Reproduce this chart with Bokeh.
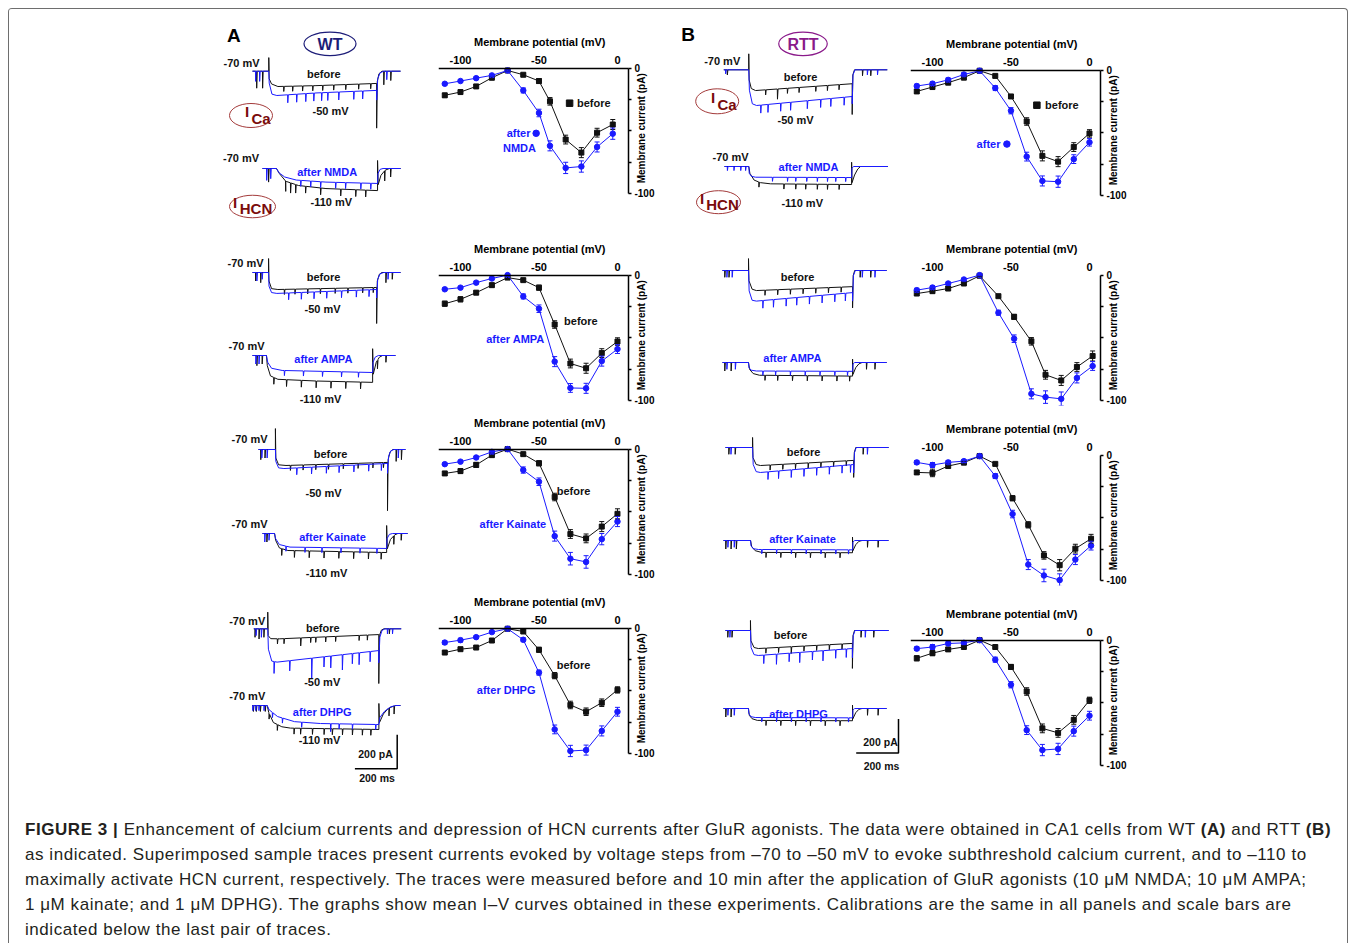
import numpy as np
from bokeh.plotting import figure
from bokeh.models import (Range1d, FixedTicker, Whisker, TeeHead, ColumnDataSource,
                          Div, Spacer, CustomJSTickFormatter)
from bokeh.layouts import row, column
from bokeh.core.properties import value
from bokeh.embed import file_html
from bokeh.resources import INLINE

FONT = "Liberation Sans"
NARROW = "'Liberation Sans Narrow', 'Liberation Sans', Arial, sans-serif"
BLACK = "#111111"
BLUE = "#1a1aff"

# ------------------------------------------------------------------ I-V data
V_REG = [-110, -100, -90, -80, -70, -60, -50, -40, -30, -20, -10, 0]
V_A1 = [-110, -100, -90, -80, -70, -60, -50, -43, -33, -23, -13, -3]
V_B2 = [-110, -100, -90, -80, -70, -58, -48, -37, -28, -18, -8, 2]
V_B3 = [-110, -100, -90, -80, -70, -60, -49, -39, -29, -19, -9, 1]

A1_before = [-21.7, -19.1, -14.6, -7.7, -1.9, -5.3, -10.3, -26.5, -57, -67.4, -51.5, -45]
A1_after = [-12.5, -10.3, -8, -5.8, -1.9, -17.8, -35.8, -62, -79.6, -78.5, -62.9, -52.3]
A2_before = [-22.8, -19.3, -14, -8, -2, -4, -10, -39.4, -70.5, -74.3, -62.2, -53]
A2_after = [-11.3, -10, -6, -2.7, 0, -17, -26.8, -69, -90, -90.3, -68.6, -59]
A3_before = [-19.4, -17.5, -12.6, -4.8, 0, -4, -11.3, -38.2, -67.7, -71.2, -61.8, -51.6]
A3_after = [-12, -10, -6.7, -2.2, 0, -16.7, -26, -69.4, -87.4, -90, -71.8, -57.8]
A4_before = [-19.5, -16.8, -15.5, -9.9, -0.5, -2.7, -17.3, -37.9, -61.3, -66.7, -59.5, -49.3]
A4_after = [-11.5, -9.6, -7.2, -3.2, -0.5, -9.3, -35.5, -80.8, -98, -97.3, -82, -66.7]
B1_before = [-17, -13.5, -10, -6, -0.5, -4.6, -21, -41, -68.4, -73, -61.4, -50.5]
B1_after = [-12.7, -10.8, -7.8, -3.5, -0.5, -14.3, -32.4, -69, -88.4, -89, -71, -57.6]
B2_before = [-14.7, -12.8, -10.7, -6.7, -0.5, -16.8, -33.3, -52.8, -79.5, -84, -73.3, -64.5]
B2_after = [-12, -9.9, -6.7, -3.5, 0, -30, -50.7, -94.7, -97.3, -98.7, -82, -72.5]
B3_before = [-13.8, -14.2, -8.7, -6, -0.8, -7, -34.4, -55.6, -80, -87.8, -74.6, -66.7]
B3_after = [-5.8, -7.9, -5.8, -4.8, -0.8, -16.7, -47, -87.3, -96, -99.7, -83.3, -72.2]
B4_before = [-14.5, -10.4, -7.4, -5.5, 0, -5.5, -21.4, -41, -70.4, -74, -63.6, -48]
B4_after = [-6.8, -5.5, -2.7, -2.2, 0, -15.6, -35.6, -71.8, -87.7, -86.8, -72.6, -60.3]

A1_before_err = [1.5, 1.5, 1.5, 1, 0.5, 1, 2, 3, 3.5, 4, 3.5, 4]
A1_after_err = [1, 1, 1, 1, 0.5, 2, 3, 4, 4.5, 4.5, 4, 4.5]
A2_before_err = [2, 2, 1.5, 1.5, 1, 1, 2, 3, 3.5, 4, 3.5, 3]
A2_after_err = [1, 1, 1, 1, 1, 2, 3, 4, 3.5, 4, 4, 3.5]
A3_before_err = [1.5, 2, 2, 1.5, 1, 1, 2, 3, 3.5, 3.5, 4, 4]
A3_after_err = [1, 1, 1, 1.5, 1, 2.5, 3, 4, 5, 5, 4.5, 4]
A4_before_err = [1, 1, 1, 1.5, 1, 1, 2, 2.5, 3, 3, 3, 2.5]
A4_after_err = [1.5, 1.5, 1, 1, 1, 1.5, 2, 3.5, 4.5, 4, 4, 3.5]
B1_before_err = [1.5, 1.5, 1, 1, 0.5, 1, 1.5, 3, 4, 4, 3.5, 3]
B1_after_err = [1.5, 1.5, 1.5, 1.5, 0.5, 2, 2.5, 3.5, 4, 4.5, 3.5, 3]
B2_before_err = [1.5, 1.5, 1.5, 1, 0.5, 1, 2, 3, 3.5, 4, 3.5, 4]
B2_after_err = [1.5, 1.5, 1, 1, 0.5, 2, 3, 4, 5, 5.5, 4, 3.5]
B3_before_err = [1.5, 3, 1.5, 1, 0.5, 1, 2, 2.5, 3, 4.5, 3.5, 3.5]
B3_after_err = [1.5, 2, 1.5, 1, 0.5, 2, 3, 4, 5, 5, 4, 3.5]
B4_before_err = [2, 2, 1.5, 1, 0.5, 1, 2, 3, 3.5, 3.5, 3.5, 2.5]
B4_after_err = [1.5, 2, 1.5, 1, 0.5, 2, 2.5, 3.5, 4.5, 4.5, 4, 3.5]

X_TICKS = [-100, -50, 0]
Y_TICKS = [-100, 0]
Y_MINOR = [-75, -50, -25]
V_AXIS_LO, V_AXIS_HI = -114, 7      # extent of the voltage axis line (mV)
I_AXIS_LO, I_AXIS_HI = -100, 0      # extent of the current axis line (pA)

# ------------------------------------------------------------ sample traces
# knots: (time ms from trace start, current pA rel. to holding); spikes: (time ms, depth pA)
A1_Ca = dict(
    black=[(0, 0), (77, 0), (77, 80), (79, -45), (90, -75), (120, -90), (300, -85), (587, -72), (587, -335), (590, -60), (598, -15), (612, 0), (700, 0)],
    blue=[(0, 0), (77, 0), (79, -70), (92, -135), (115, -143), (300, -128), (587, -113), (587, -170), (592, -45), (603, -10), (620, 0), (700, 0)],
    black_sp=[(19, 100), (47, 100), (147, 30), (189, 30), (236, 30), (284, 30), (331, 30), (383, 30), (440, 30), (501, 30), (558, 30), (620, 80), (653, 55)],
    blue_sp=[(14, 60), (33, 60), (166, 47), (208, 47), (251, 47), (289, 47), (326, 47), (355, 47), (407, 47), (478, 47), (520, 47), (634, 50)])
A1_HCN = dict(
    black=[(0, 0), (66, 0), (80, -30), (110, -75), (170, -100), (300, -118), (544, -130), (544, 47), (547, -95), (560, -40), (580, -10), (600, 0), (653, 0)],
    blue=[(0, 0), (66, 0), (78, -25), (105, -50), (160, -68), (300, -80), (544, -88), (546, -30), (556, -5), (570, 0), (653, 0)],
    black_sp=[(28, 80), (109, 60), (132, 60), (156, 50), (203, 40), (274, 40), (369, 40), (440, 40), (487, 40), (577, 60), (605, 50)],
    blue_sp=[(19, 70), (38, 60), (180, 35), (227, 35), (274, 35), (345, 35), (392, 35), (464, 35), (511, 35)])
A2_Ca = dict(
    black=[(0, 0), (76, 0), (76, 82), (78, -50), (90, -95), (120, -100), (587, -88), (587, -300), (590, -50), (600, -10), (612, 0), (700, 0)],
    blue=[(0, 0), (76, 0), (78, -80), (90, -118), (115, -123), (587, -100), (587, -150), (592, -40), (603, -8), (620, 0), (700, 0)],
    black_sp=[(14, 50), (38, 60), (150, 30), (200, 30), (260, 30), (320, 30), (390, 30), (450, 30), (520, 30), (570, 30), (630, 60), (660, 40)],
    blue_sp=[(20, 50), (45, 40), (170, 40), (230, 40), (290, 40), (350, 40), (420, 40), (490, 40), (550, 40), (640, 40)])
A2_HCN = dict(
    black=[(0, 0), (66, 0), (70, -60), (85, -120), (120, -140), (300, -150), (568, -158), (568, 40), (571, -110), (585, -40), (600, -10), (615, 0), (676, 0)],
    blue=[(0, 0), (66, 0), (72, -40), (90, -75), (140, -88), (568, -100), (570, -40), (580, -10), (595, 0), (676, 0)],
    black_sp=[(20, 60), (45, 50), (100, 40), (160, 40), (230, 40), (300, 40), (370, 40), (440, 40), (510, 40), (590, 50), (630, 40)],
    blue_sp=[(15, 50), (30, 50), (150, 30), (240, 30), (330, 30), (420, 30), (500, 30)])
A3_Ca = dict(
    black=[(0, 0), (80, 0), (80, 123), (82, -50), (95, -90), (130, -94), (610, -76), (610, -360), (613, -60), (622, -15), (635, 0), (695, 0)],
    blue=[(0, 0), (80, 0), (82, -70), (95, -108), (120, -112), (610, -82), (610, -140), (615, -40), (625, -8), (640, 0), (695, 0)],
    black_sp=[(10, 60), (30, 50), (150, 30), (210, 30), (270, 30), (330, 30), (400, 30), (470, 30), (540, 30), (590, 30), (650, 70), (675, 60)],
    blue_sp=[(15, 50), (40, 50), (180, 40), (250, 40), (320, 40), (380, 40), (450, 40), (520, 40), (580, 40), (660, 50)])
A3_HCN = dict(
    black=[(0, 0), (57, 0), (62, -40), (80, -85), (120, -100), (587, -112), (587, 47), (590, -90), (605, -35), (625, -8), (640, 0), (686, 0)],
    blue=[(0, 0), (57, 0), (62, -30), (80, -65), (130, -80), (587, -88), (589, -30), (600, -5), (615, 0), (686, 0)],
    black_sp=[(20, 50), (90, 40), (150, 40), (220, 40), (290, 40), (360, 40), (430, 40), (500, 40), (560, 40), (620, 50), (655, 40)],
    blue_sp=[(10, 50), (30, 40), (110, 30), (200, 30), (280, 30), (370, 30), (460, 30), (540, 30)])
A4_Ca = dict(
    black=[(0, 0), (66, 0), (66, 98), (68, -40), (80, -58), (120, -59), (591, -34), (591, -322), (594, -40), (603, -8), (615, 0), (697, 0)],
    blue=[(0, 0), (66, 0), (69, -120), (85, -190), (110, -196), (591, -128), (591, -200), (596, -50), (606, -10), (620, 0), (697, 0)],
    black_sp=[(5, 50), (24, 60), (47, 50), (111, 30), (142, 30), (221, 47), (268, 30), (292, 30), (339, 30), (386, 30), (497, 30), (536, 30), (640, 30)],
    blue_sp=[(10, 40), (35, 50), (95, 70), (169, 60), (273, 118), (331, 60), (363, 70), (418, 90), (465, 60), (497, 70), (549, 60), (631, 30), (655, 30)])
A4_HCN = dict(
    black=[(0, 0), (71, 0), (78, -40), (100, -100), (140, -125), (181, -133), (599, -141), (599, 12), (602, -100), (620, -50), (645, -15), (678, 0), (701, 0)],
    blue=[(0, 0), (71, 0), (80, -25), (120, -65), (200, -95), (323, -106), (599, -112), (604, -70), (625, -35), (655, -8), (678, 0), (701, 0)],
    black_sp=[(5, 35), (19, 35), (38, 35), (61, 35), (79, 35), (118, 35), (197, 35), (228, 35), (284, 35), (339, 35), (378, 35), (426, 35), (473, 35), (520, 35), (560, 35), (646, 47), (670, 47)],
    blue_sp=[(2, 30), (16, 30), (31, 30), (55, 30), (95, 30), (142, 30), (233, 30), (370, 47), (410, 30), (473, 30), (583, 30)])
B1_Ca = dict(
    black=[(0, 0), (118, 0), (118, 94), (120, -60), (130, -110), (150, -122), (607, -82), (607, -263), (610, -30), (618, 0), (773, 0)],
    blue=[(0, 0), (118, 0), (121, -120), (135, -200), (155, -210), (607, -157), (607, -200), (611, -30), (620, 0), (773, 0)],
    black_sp=[(16, 30), (197, 30), (253, 60), (300, 30), (355, 30), (434, 30), (489, 30), (544, 30), (655, 35), (694, 35)],
    blue_sp=[(8, 24), (174, 47), (208, 47), (268, 47), (315, 47), (394, 47), (457, 47), (505, 47), (568, 47), (678, 30), (726, 30)])
B1_HCN = dict(
    black=[(0, 0), (115, 0), (120, -40), (140, -80), (170, -95), (218, -102), (601, -106), (601, 25), (603, -95), (615, -50), (630, -15), (643, 0), (772, 0)],
    blue=[(0, 0), (115, 0), (117, -40), (128, -58), (147, -63), (601, -65), (603, -10), (610, 0), (772, 0)],
    black_sp=[(162, 30), (280, 30), (336, 30), (383, 30), (438, 30), (486, 30), (541, 30)],
    blue_sp=[(13, 24), (44, 24), (76, 24), (99, 24), (226, 24), (297, 24), (336, 24), (388, 24), (438, 24), (486, 24), (525, 24), (572, 24)])
B2_Ca = dict(
    black=[(0, 0), (123, 0), (123, 70), (125, -60), (140, -110), (160, -118), (615, -95), (615, -220), (618, -30), (625, 0), (776, 0)],
    blue=[(0, 0), (123, 0), (126, -120), (140, -175), (160, -180), (615, -130), (615, -180), (619, -30), (628, 0), (776, 0)],
    black_sp=[(10, 40), (30, 40), (200, 30), (260, 30), (320, 30), (380, 30), (440, 30), (500, 30), (560, 30), (650, 40), (700, 40)],
    blue_sp=[(20, 40), (45, 40), (190, 45), (240, 45), (300, 45), (350, 45), (410, 45), (470, 45), (530, 45), (580, 45), (660, 40), (720, 40)])
B2_HCN = dict(
    black=[(0, 0), (123, 0), (128, -40), (145, -65), (175, -75), (615, -80), (615, 20), (617, -70), (630, -30), (645, -8), (660, 0), (776, 0)],
    blue=[(0, 0), (123, 0), (125, -30), (135, -45), (160, -50), (615, -52), (617, -10), (625, 0), (776, 0)],
    black_sp=[(10, 50), (40, 50), (200, 30), (260, 30), (330, 30), (400, 30), (470, 30), (540, 30), (600, 30), (680, 40), (720, 40)],
    blue_sp=[(20, 40), (60, 40), (190, 25), (250, 25), (320, 25), (390, 25), (460, 25), (530, 25), (590, 25)])
B3_Ca = dict(
    black=[(0, 0), (128, 0), (128, 59), (130, -60), (145, -100), (165, -106), (606, -76), (606, -176), (609, -30), (616, 0), (771, 0)],
    blue=[(0, 0), (128, 0), (131, -100), (145, -142), (165, -147), (606, -100), (606, -150), (610, -30), (618, 0), (771, 0)],
    black_sp=[(15, 40), (45, 40), (210, 30), (270, 30), (330, 30), (390, 30), (450, 30), (510, 30), (570, 30), (650, 40)],
    blue_sp=[(25, 40), (200, 45), (250, 45), (310, 45), (370, 45), (430, 45), (490, 45), (550, 45), (590, 45), (670, 40)])
B3_HCN = dict(
    black=[(0, 0), (128, 0), (133, -35), (150, -60), (180, -70), (610, -72), (610, 20), (612, -60), (625, -25), (640, -5), (655, 0), (780, 0)],
    blue=[(0, 0), (128, 0), (130, -30), (140, -48), (165, -53), (610, -55), (612, -10), (620, 0), (780, 0)],
    black_sp=[(10, 50), (35, 50), (60, 50), (200, 30), (270, 30), (340, 30), (410, 30), (480, 30), (550, 30), (680, 40), (730, 40)],
    blue_sp=[(20, 40), (50, 40), (180, 25), (250, 25), (320, 25), (390, 25), (460, 25), (530, 25), (590, 25)])
B4_Ca = dict(
    black=[(0, 0), (118, 0), (118, 59), (120, -60), (135, -100), (155, -106), (600, -76), (600, -223), (603, -30), (610, 0), (771, 0)],
    blue=[(0, 0), (118, 0), (121, -100), (135, -142), (155, -147), (600, -106), (600, -160), (604, -30), (612, 0), (771, 0)],
    black_sp=[(10, 40), (30, 40), (190, 30), (250, 30), (310, 40), (370, 30), (430, 30), (490, 30), (550, 30), (640, 40), (700, 40)],
    blue_sp=[(20, 40), (180, 50), (240, 60), (300, 50), (350, 60), (410, 50), (460, 60), (520, 50), (570, 50), (660, 40)])
B4_HCN = dict(
    black=[(0, 0), (118, 0), (122, -40), (135, -60), (160, -70), (610, -72), (610, 20), (612, -60), (625, -25), (640, -5), (655, 0), (771, 0)],
    blue=[(0, 0), (118, 0), (120, -30), (130, -48), (150, -53), (610, -55), (612, -10), (620, 0), (771, 0)],
    black_sp=[(10, 50), (35, 50), (200, 30), (270, 30), (340, 30), (410, 30), (480, 30), (550, 30), (680, 40), (730, 40)],
    blue_sp=[(20, 40), (50, 40), (180, 25), (250, 25), (320, 25), (390, 25), (460, 25), (530, 25), (590, 25)])

SCALE_MS = 200
SCALE_PA = 200

# ------------------------------------------------------------------ layout
SX = 0.2115   # px per ms in trace panels
SY = 0.17     # px per pA in trace panels
PANEL_H = 791
PAGE_BOTTOM = 800

POS_A = [(A1_Ca, 252, 70.7), (A1_HCN, 262, 168), (A2_Ca, 252, 272), (A2_HCN, 252, 355),
         (A3_Ca, 258, 449), (A3_HCN, 262, 533), (A4_Ca, 253.3, 628.3), (A4_HCN, 251.7, 705)]
POS_B = [(B1_Ca, 723.3, 69.3), (B1_HCN, 724, 166), (B2_Ca, 722, 270), (B2_HCN, 722, 362),
         (B3_Ca, 725, 447), (B3_HCN, 723, 540), (B4_Ca, 725, 630), (B4_HCN, 723, 708)]

LABELS_A = [("-70 mV", 241, 62, BLACK), ("before", 323.3, 73.3, BLACK), ("-50 mV", 330, 110, BLACK),
            ("-70 mV", 240.5, 157.7, BLACK), ("after NMDA", 326.7, 171, BLUE), ("-110 mV", 330.8, 201.7, BLACK),
            ("-70 mV", 245, 262, BLACK), ("before", 323, 276, BLACK), ("-50 mV", 322, 308, BLACK),
            ("-70 mV", 246, 345, BLACK), ("after AMPA", 323, 358, BLUE), ("-110 mV", 320, 398, BLACK),
            ("-70 mV", 249, 438, BLACK), ("before", 330, 453, BLACK), ("-50 mV", 323, 492, BLACK),
            ("-70 mV", 249, 523, BLACK), ("after Kainate", 332, 536, BLUE), ("-110 mV", 326, 572, BLACK),
            ("-70 mV", 246.7, 620, BLACK), ("before", 322.3, 627.3, BLACK), ("-50 mV", 321.7, 681, BLACK),
            ("-70 mV", 246.7, 695, BLACK), ("after DHPG", 321.7, 711, BLUE), ("-110 mV", 319, 739, BLACK),
            ("200 pA", 375, 753, BLACK), ("200 ms", 376.5, 777.7, BLACK)]
LABELS_B = [("-70 mV", 721.7, 60, BLACK), ("before", 800, 76, BLACK), ("-50 mV", 795, 119, BLACK),
            ("-70 mV", 730, 156.7, BLACK), ("after NMDA", 808, 166.7, BLUE), ("-110 mV", 801.7, 202.7, BLACK),
            ("before", 797, 276, BLACK), ("after AMPA", 792, 357, BLUE),
            ("before", 803, 451, BLACK), ("after Kainate", 802, 538, BLUE),
            ("before", 790, 634, BLACK), ("after DHPG", 798, 713, BLUE),
            ("200 pA", 880, 741, BLACK), ("200 ms", 881, 765, BLACK)]


def build(knots, spikes):
    ts = np.array([k[0] for k in knots], float)
    vs = np.array([k[1] for k in knots], float)
    pts = list(knots)
    for t, d in spikes:
        for dt, f in ((0, 0), (0.8, 1), (3.5, 0)):
            tt = t + dt
            pts.append((tt, float(np.interp(tt, ts, vs)) - f * d))
    pts = sorted(pts, key=lambda p: p[0])
    return [p[0] for p in pts], [p[1] for p in pts]


def trace_fig(width, left, pos, labels, letter, group, group_col, badges, bar_corner):
    p = figure(width=width, height=PANEL_H, x_range=Range1d(0, width / SX),
               y_range=Range1d(0, PANEL_H / SY), x_axis_type=None, y_axis_type=None,
               toolbar_location=None, output_backend="svg", min_border=0)
    p.outline_line_color = None
    tx = lambda px: (px - left) / SX
    ty = lambda py: (PAGE_BOTTOM - py) / SY
    for tr, x0, y0 in pos:
        for key, col in (("black", BLACK), ("blue", BLUE)):
            ts, vs = build(tr[key], tr[key + "_sp"])
            p.line([tx(x0) + t for t in ts], [ty(y0) + v for v in vs], line_color=col, line_width=1)

    def txt(s, px, py, col, size="11px", font=FONT):
        p.text(x=[tx(px)], y=[ty(py)], text=[s], text_font=value(font), text_font_size=size,
               text_font_style="bold", text_color=col, text_align="center", text_baseline="middle")

    for s, px, py, col in labels:
        txt(s, px, py, col, "10.5px" if s.startswith("200") else "11px")
    txt(letter[0], letter[1], letter[2], "black", "19px")
    gx, gy, gw, gh, gname = group
    p.ellipse(x=[tx(gx)], y=[ty(gy)], width=[gw / SX], height=[gh / SY], fill_color=None,
              line_color=group_col, line_width=1.2)
    txt(gname, gx, gy + 1, group_col, "16px")
    for cx, cy, w, h, sub, ix, iy, sx_, sy_ in badges:
        p.ellipse(x=[tx(cx)], y=[ty(cy)], width=[w / SX], height=[h / SY], fill_color=None,
                  line_color="#a33a3a", line_width=1)
        txt("I", ix, iy, "#7a0c0c", "15px", NARROW)
        txt(sub, sx_, sy_, "#7a0c0c", "15px", NARROW)
    bx, by = bar_corner
    p.line([tx(bx) - SCALE_MS, tx(bx), tx(bx)], [ty(by), ty(by), ty(by) + SCALE_PA],
           line_color="black", line_width=1.5)
    return p


Y_LO, Y_HI = -104, 30
FRAME_H = 168
PX_PER_PA = FRAME_H / (Y_HI - Y_LO)
PX_PER_MV = 1.57
IV_W, IV_LEFT, IV_RIGHT = 240, 8, 12
X_END = V_AXIS_LO + (IV_W - IV_LEFT - IV_RIGHT) / PX_PER_MV
TICK_FMT = "return tick.toString();"


def iv_fig(h, top, V, yb, eb, ya, ea, zero_line=True, legend=()):
    p = figure(width=IV_W, height=h, x_range=Range1d(V_AXIS_LO, X_END), y_range=Range1d(Y_LO, Y_HI),
               x_axis_location="above", y_axis_location="right",
               toolbar_location=None, output_backend="svg",
               min_border_left=IV_LEFT, min_border_right=IV_RIGHT, min_border_top=top,
               min_border_bottom=h - top - FRAME_H)
    p.outline_line_color = None
    p.xgrid.visible = False
    p.ygrid.visible = False
    xa = p.xaxis[0]
    xa.fixed_location = 0
    xa.ticker = FixedTicker(ticks=X_TICKS)
    xa.formatter = CustomJSTickFormatter(code=TICK_FMT)
    xa.bounds = (V_AXIS_LO, V_AXIS_HI)
    xa.axis_line_color = "black" if zero_line else None
    xa.axis_line_width = 1.5
    xa.major_tick_line_color = None
    xa.minor_tick_line_color = None
    xa.major_tick_out = 0
    xa.major_tick_in = 0
    xa.major_label_standoff = 4
    xa.major_label_text_font = FONT
    xa.major_label_text_font_style = "bold"
    xa.major_label_text_font_size = "11px"
    xa.major_label_text_color = "black"
    yx = p.yaxis[0]
    yx.fixed_location = V_AXIS_HI
    yx.ticker = FixedTicker(ticks=Y_TICKS, minor_ticks=Y_MINOR)
    yx.formatter = CustomJSTickFormatter(code=TICK_FMT)
    yx.bounds = (I_AXIS_LO - 0.01, I_AXIS_HI + 0.01)
    yx.axis_line_color = "black"
    yx.axis_line_width = 1.5
    yx.major_tick_line_color = "black"
    yx.major_tick_line_width = 1.5
    yx.major_tick_out = 3
    yx.major_tick_in = 0
    yx.minor_tick_line_color = "black"
    yx.minor_tick_line_width = 1.5
    yx.minor_tick_out = 3
    yx.minor_tick_in = 0
    yx.major_label_standoff = 3
    yx.major_label_text_font = FONT
    yx.major_label_text_font_style = "bold"
    yx.major_label_text_font_size = "10px"
    yx.major_label_text_color = "black"
    # axis titles
    p.text(x=[-49.5], y=[26.5 / PX_PER_PA], text=["Membrane potential (mV)"],
           text_font=value(FONT), text_font_size="11px", text_font_style="bold",
           text_color="black", text_align="center", text_baseline="middle")
    p.text(x=[V_AXIS_HI + 12.7 / PX_PER_MV], y=[-48], text=["Membrane current (pA)"],
           angle=np.pi / 2, text_font=value(FONT), text_font_size="10px",
           text_font_style="bold", text_color="black", text_align="center",
           text_baseline="middle")
    for ys, es, col, marker, size in ((yb, eb, BLACK, "square", 5), (ya, ea, BLUE, "circle", 5.5)):
        src = ColumnDataSource(dict(x=V, y=ys, lo=[a - e for a, e in zip(ys, es)],
                                    up=[a + e for a, e in zip(ys, es)]))
        p.add_layout(Whisker(source=src, base="x", lower="lo", upper="up", line_color=col,
                             line_width=1, level="glyph",
                             upper_head=TeeHead(size=5, line_color=col, line_width=1),
                             lower_head=TeeHead(size=5, line_color=col, line_width=1)))
        p.line("x", "y", source=src, line_color=col, line_width=1)
        p.scatter("x", "y", source=src, marker=marker, size=size, fill_color=col, line_color=col)
    for kind, x, y, s, col in legend:
        if kind == "text":
            p.text(x=[x], y=[y], text=[s], text_font=value(FONT), text_font_size="11px",
                   text_font_style="bold", text_color=col, text_align="center",
                   text_baseline="middle")
        else:
            p.scatter(x=[x], y=[y], marker=kind, size=6.5, fill_color=col, line_color=col)
    return p


# ------------------------------------------------------------- build figures
trA = trace_fig(421, 9, POS_A, LABELS_A, ("A", 233.3, 35), (329.5, 43.3, 52, 23.5, "WT"), "#1c1c78",
                [(250.5, 115, 43, 24, "Ca", 246.5, 110.5, 260.5, 117.5),
                 (252, 206, 46, 22.5, "HCN", 234.5, 202, 255.5, 207.5)],
                (396.7, 768.3))
trB = trace_fig(232, 670, POS_B, LABELS_B, ("B", 687.5, 34.2), (802.5, 43.3, 48.5, 23.5, "RTT"), "#8a1a8a",
                [(716.7, 100.8, 43, 25, "Ca", 712.5, 96.5, 726.5, 103.5),
                 (718, 201.7, 44, 23, "HCN", 701.5, 197.5, 722, 203.5)],
                (898, 752.5))

ivA = column(
    iv_fig(211, 21, V_A1, A1_before, A1_before_err, A1_after, A1_after_err,
           legend=(("square", -30.5, -28, "", BLACK), ("text", -15.1, -28, "before", BLACK),
                   ("text", -63, -52, "after", BLUE), ("circle", -51.8, -52, "", BLUE),
                   ("text", -62.4, -63.6, "NMDA", BLUE))),
    iv_fig(190, 17, V_REG, A2_before, A2_before_err, A2_after, A2_after_err,
           legend=(("text", -23.3, -36.5, "before", BLACK), ("text", -65, -51, "after AMPA", BLUE))),
    iv_fig(180, 1, V_REG, A3_before, A3_before_err, A3_after, A3_after_err,
           legend=(("text", -28, -33.3, "before", BLACK), ("text", -66.6, -60, "after Kainate", BLUE))),
    iv_fig(210, 0, V_REG, A4_before, A4_before_err, A4_after, A4_after_err,
           legend=(("text", -28, -29.8, "before", BLACK), ("text", -70.9, -49.2, "after DHPG", BLUE))),
    spacing=0)
ivB = column(
    iv_fig(216, 23, V_REG, B1_before, B1_before_err, B1_after, B1_after_err,
           legend=(("square", -33.5, -28, "", BLACK), ("text", -17.6, -28, "before", BLACK),
                   ("text", -64.3, -59, "after", BLUE), ("circle", -52.6, -59, "", BLUE))),
    iv_fig(190, 12, V_B2, B2_before, B2_before_err, B2_after, B2_after_err, zero_line=False),
    iv_fig(185, 2, V_B3, B3_before, B3_before_err, B3_after, B3_after_err, zero_line=False),
    iv_fig(200, 2, V_REG, B4_before, B4_before_err, B4_after, B4_after_err),
    spacing=0)

top = row(trA, ivA, trB, ivB, Spacer(width=205, height=PANEL_H), spacing=0)

CAPTION_LINES = [
    "<b>FIGURE 3 |</b> Enhancement of calcium currents and depression of HCN currents after GluR agonists. "
    "The data were obtained in CA1 cells from WT <b>(A)</b> and RTT <b>(B)</b>",
    "as indicated. Superimposed sample traces present currents evoked by voltage steps from \u201370 to \u201350 mV "
    "to evoke subthreshold calcium current, and to \u2013110 to",
    "maximally activate HCN current, respectively. The traces were measured before and 10 min after the "
    "application of GluR agonists (10 \u03bcM NMDA; 10 \u03bcM AMPA;",
    "1 \u03bcM kainate; and 1 \u03bcM DPHG). The graphs show mean I\u2013V curves obtained in these experiments. "
    "Calibrations are the same in all panels and scale bars are",
    "indicated below the last pair of traces.",
]
cap_html = ('<div style="font-family:\'Liberation Sans\',Arial,sans-serif;font-size:17px;'
            'letter-spacing:0.55px;line-height:25px;color:#231f20;white-space:nowrap;'
            'padding:17px 0 0 16px;">' + "<br>".join(CAPTION_LINES) + "</div>")
cap = Div(text=cap_html, width=1338, height=143, margin=0, styles={"overflow": "hidden"})

framed = column(top, cap, spacing=0,
                styles={"border": "1px solid #6e6e6e", "border-bottom": "none",
                        "border-radius": "4px 4px 0 0"})
page = column(Spacer(width=1, height=8),
              row(Spacer(width=8, height=1), framed, spacing=0),
              spacing=0)

open("out.html", "w").write(file_html(page, INLINE))
